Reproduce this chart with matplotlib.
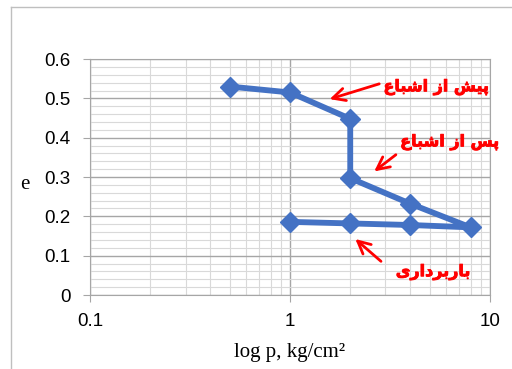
import numpy as np
import matplotlib.pyplot as plt
import matplotlib.patheffects as pe
from matplotlib.ticker import MultipleLocator, FixedLocator, NullFormatter

# consolidation curve (loading, saturation, unloading)
p = [0.5, 1, 2, 2, 4, 8, 4, 2, 1]
e = [0.530, 0.515, 0.448, 0.297, 0.232, 0.172, 0.178, 0.182, 0.186]

# Persian labels written as shaped presentation forms, in visual order
lbl_before = '\uFEC9\uFE8E\uFE92\uFEB7\uFE8D \uFEAF\uFE8D \uFEB6\uFBFF\uFB58'   # پیش از اشباع
lbl_after = '\uFEC9\uFE8E\uFE92\uFEB7\uFE8D \uFEAF\uFE8D \uFEB2\uFB58'          # پس از اشباع
lbl_unload = '\uFBFC\uFEAD\uFE8D\uFEA9\uFEAE\uFE91\uFEAD\uFE8E\uFE91'          # باربرداری

# annotation text positions and arrow (tail, head) in data coords
txt_xy = [(5.4, 0.528), (6.3, 0.388), (5.2, 0.058)]
arr_tail = [(2.88, 0.539), (3.47, 0.361), (2.92, 0.081)]
arr_head = [(1.53, 0.496), (2.57, 0.310), (2.07, 0.147)]

fig = plt.figure(figsize=(5.12, 3.69), dpi=100)
ax = fig.add_axes([0.176, 0.2005, 0.781, 0.6395])

ax.plot(p, e, color='#4472C4', lw=4.2, marker='D', ms=10, zorder=3,
        solid_joinstyle='miter')

ax.set_xscale('log')
ax.set_xlim(0.1, 10)
ax.set_ylim(0, 0.6)
ax.yaxis.set_minor_locator(MultipleLocator(0.02))
ax.xaxis.set_major_locator(FixedLocator([0.1, 1, 10]))
ax.xaxis.set_minor_locator(FixedLocator([k * d for d in (0.1, 1) for k in range(2, 10)]))
ax.xaxis.set_minor_formatter(NullFormatter())
ax.set_xticklabels(['0.1', '1', '10'])
ax.set_yticks(np.arange(0, 0.61, 0.1))
ax.set_yticklabels(['0', '0.1', '0.2', '0.3', '0.4', '0.5', '0.6'])

ax.grid(which='major', color='#A6A6A6', lw=1.0)
ax.grid(which='minor', color='#D9D9D9', lw=0.8)
ax.set_axisbelow(True)
for s in ax.spines.values():
    s.set_color('#A6A6A6')
ax.tick_params(which='major', length=5, color='#A6A6A6', labelsize=13.5, pad=9)
ax.tick_params(which='minor', length=0)
ax.tick_params(axis='x', pad=8)
for t in ax.get_xticklabels() + ax.get_yticklabels():
    t.set_fontfamily('Liberation Sans')

fig.text(0.049, 0.499, 'e', fontsize=15, family='Liberation Serif', ha='center', va='center')
fig.text(0.566, 0.046, 'log p, kg/cm\u00b2', fontsize=15, family='Liberation Serif',
         ha='center', va='center')

for lbl, xy in zip([lbl_before, lbl_after, lbl_unload], txt_xy):
    ax.text(xy[0], xy[1], lbl, color='#FF0000', fontsize=11.5, fontweight='bold',
            family='DejaVu Sans', ha='center', va='center',
            path_effects=[pe.withStroke(linewidth=0.6, foreground='#FF0000')])
for t0, h0 in zip(arr_tail, arr_head):
    ax.annotate('', xy=h0, xytext=t0,
                arrowprops=dict(arrowstyle='->,head_length=0.9,head_width=0.45',
                                color='#FF0000', lw=2.0))

# outer chart border
fig.add_artist(plt.Line2D([11 / 512, 11 / 512], [0, 1 - 7 / 369], color='#BFBFBF', lw=1))
fig.add_artist(plt.Line2D([11 / 512, 1], [1 - 7 / 369, 1 - 7 / 369], color='#BFBFBF', lw=1))

fig.savefig('out.png', dpi=100)
